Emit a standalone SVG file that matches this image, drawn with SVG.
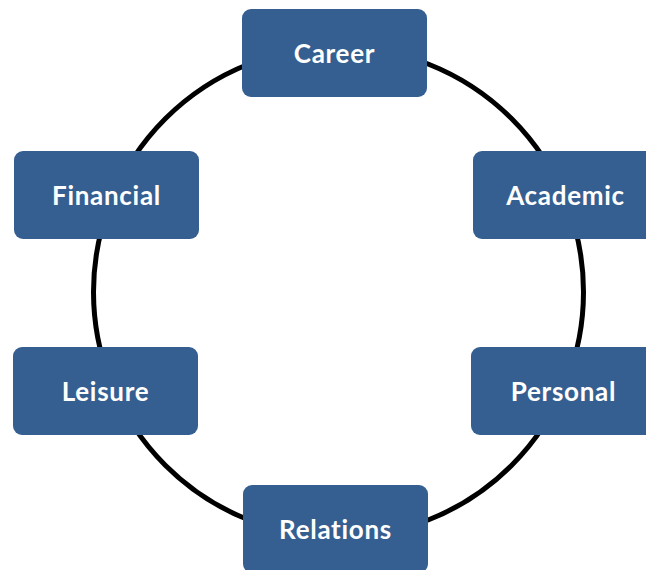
<svg xmlns="http://www.w3.org/2000/svg" width="646" height="570" viewBox="0 0 646 570">
<style>
.box{fill:#355F91;}
.lbl{fill:#ffffff;font-family:Lato,"Noto Sans",sans-serif;font-weight:bold;font-size:26px;text-anchor:middle;dominant-baseline:central;letter-spacing:0.7px;}
</style>
<rect width="646" height="570" fill="#ffffff"/>
<g id="connectors">
<circle cx="338.5" cy="292" r="245" fill="none" stroke="#000000" stroke-width="5"/>
</g>
<g id="career"><rect class="box" x="242" y="9" width="185" height="88" rx="9"/><text class="lbl" x="334.5" y="53">Career</text></g>
<g id="financial"><rect class="box" x="14" y="151" width="185" height="88" rx="9"/><text class="lbl" x="106.5" y="195">Financial</text></g>
<g id="academic"><rect class="box" x="473" y="151" width="185" height="88" rx="9"/><text class="lbl" x="565.5" y="195">Academic</text></g>
<g id="leisure"><rect class="box" x="13" y="347" width="185" height="88" rx="9"/><text class="lbl" x="105.5" y="391">Leisure</text></g>
<g id="personal"><rect class="box" x="471" y="347" width="185" height="88" rx="9"/><text class="lbl" x="563.5" y="391">Personal</text></g>
<g id="relations"><rect class="box" x="243" y="485" width="185" height="88" rx="9"/><text class="lbl" x="335.5" y="529">Relations</text></g>
</svg>
